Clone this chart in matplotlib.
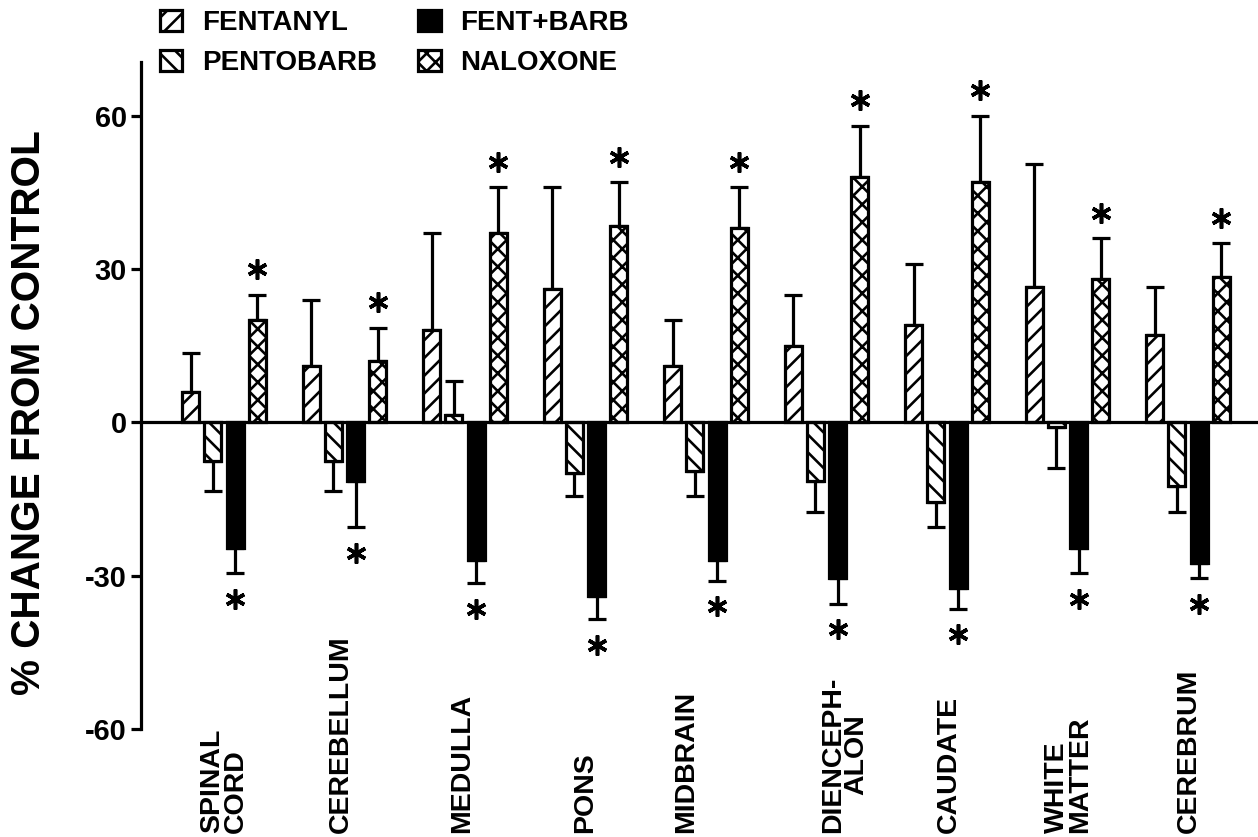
import matplotlib
matplotlib.use("Agg")
import matplotlib.pyplot as plt
import numpy as np
from matplotlib.transforms import blended_transform_factory

# ---------------- data ----------------
regions = ["SPINAL\nCORD", "CEREBELLUM", "MEDULLA", "PONS", "MIDBRAIN",
           "DIENCEPH-\nALON", "CAUDATE", "WHITE\nMATTER", "CEREBRUM"]
series_names = ["FENTANYL", "PENTOBARB", "FENT+BARB", "NALOXONE"]

fentanyl      = [6, 11, 18, 26, 11, 15, 19, 26.5, 17]
fentanyl_err  = [7.5, 13, 19, 20, 9, 10, 12, 24, 9.5]
pentobarb     = [-7.5, -7.5, 1.5, -10, -9.5, -11.5, -15.5, -1, -12.5]
pentobarb_err = [6, 6, 6.5, 4.5, 5, 6, 5, 8, 5]
fentbarb      = [-24.5, -11.5, -27, -34, -27, -30.5, -32.5, -24.5, -27.5]
fentbarb_err  = [5, 9, 4.5, 4.5, 4, 5, 4, 5, 3]
naloxone      = [20, 12, 37, 38.5, 38, 48, 47, 28, 28.5]
naloxone_err  = [5, 6.5, 9, 8.5, 8, 10, 13, 8, 6.5]

# significance flags (asterisks)
fentbarb_sig = [True] * 9
naloxone_sig = [True] * 9

yticks = [-60, -30, 0, 30, 60]

# ---------------- style ----------------
DPI = 160
def pt(px):
    return px * 72.0 / DPI

plt.rcParams["font.family"] = ["Liberation Sans", "DejaVu Sans"]
plt.rcParams["hatch.linewidth"] = pt(2.6)
plt.rcParams["hatch.color"] = "black"

W, H = 1258, 837
fig = plt.figure(figsize=(W / DPI, H / DPI), dpi=DPI)
ax_left, ax_right, ax_bottom, ax_top = 141, 1258, 729, 62
ax = fig.add_axes([ax_left / W, 1 - ax_bottom / H,
                   (ax_right - ax_left) / W, (ax_bottom - ax_top) / H])

group_px = 120.5
x = np.arange(len(regions))
step = 22.3 / group_px
width = 17 / group_px
offsets = [-1.5 * step, -0.5 * step, 0.5 * step, 1.5 * step]

values = [fentanyl, pentobarb, fentbarb, naloxone]
errors = [fentanyl_err, pentobarb_err, fentbarb_err, naloxone_err]
hatches = ["///", "\\\\\\", None, "xxx"]
faces = ["white", "white", "black", "white"]

lw = pt(3.2)
handles = []
for vals, errs, off, hatch, fc, name in zip(values, errors, offsets, hatches, faces, series_names):
    vals = np.array(vals, dtype=float)
    errs = np.array(errs, dtype=float)
    bars = ax.bar(x + off, vals, width=width, color=fc, edgecolor="black",
                  linewidth=lw, hatch=hatch, label=name, zorder=3)
    handles.append(bars)
    lower = np.where(vals < 0, errs, 0)
    upper = np.where(vals >= 0, errs, 0)
    ax.errorbar(x + off, vals, yerr=[lower, upper], fmt="none", ecolor="black",
                elinewidth=lw, capsize=pt(9), capthick=lw, zorder=2)

# asterisks
star_gap = 5.0
fb_y = [v - e - star_gap for v, e in zip(fentbarb, fentbarb_err)]
nx_y = [v + e + star_gap for v, e in zip(naloxone, naloxone_err)]
sx_fb = [xi + offsets[2] for xi, s in zip(x, fentbarb_sig) if s]
sy_fb = [yy for yy, s in zip(fb_y, fentbarb_sig) if s]
sx_nx = [xi + offsets[3] for xi, s in zip(x, naloxone_sig) if s]
sy_nx = [yy for yy, s in zip(nx_y, naloxone_sig) if s]
for sx, sy in [(sx_fb, sy_fb), (sx_nx, sy_nx)]:
    ax.plot(sx, sy, linestyle="none", marker=(6, 2, 0), markersize=pt(20),
            markeredgewidth=pt(3.6), color="black", zorder=4)

ax.axhline(0, color="black", linewidth=lw, zorder=5)

ax.set_xlim((ax_left - 224) / group_px, (ax_right - 224) / group_px)
ax.set_ylim(-60, 70.5)
ax.set_yticks(yticks)
ax.set_yticklabels([str(t) for t in yticks], fontsize=pt(29), fontweight="bold")
ax.tick_params(axis="y", direction="out", length=pt(10), width=lw, pad=pt(4))
ax.set_xticks([])
for s in ["top", "right", "bottom"]:
    ax.spines[s].set_visible(False)
ax.spines["left"].set_linewidth(lw)
ax.spines["left"].set_bounds(-60, 70.5)

ax.set_ylabel("% CHANGE FROM CONTROL", fontsize=pt(40.5), fontweight="bold",
              va="center")
ax.yaxis.set_label_coords((29 - ax_left) / (ax_right - ax_left),
                          (ax_bottom - 413) / (ax_bottom - ax_top))

# region labels (rotated, under the plot)
label_shift = [0, -0.03, -0.02, 0, -0.166, 0.154, 0.017, 0.012, 0.008]
trans = blended_transform_factory(ax.transData, fig.transFigure)
for xi, name, sh in zip(x, regions, label_shift):
    ax.text(xi + sh, 1 - 833 / H, name, transform=trans, rotation=90,
            ha="center", va="bottom", fontsize=pt(28.5), fontweight="bold",
            multialignment="center" if name.startswith("DIEN") else "left",
            linespacing=0.85, clip_on=False)

fig.legend(handles=handles, labels=series_names, ncol=2, loc="upper left",
           bbox_to_anchor=(160 / W, 1 - 10 / H), frameon=False,
           prop={"weight": "bold", "size": pt(27.8)},
           handlelength=0.8, handleheight=0.8, handletextpad=0.7,
           columnspacing=1.5, labelspacing=0.48, borderpad=0, borderaxespad=0)

fig.savefig("out.png", dpi=DPI)
